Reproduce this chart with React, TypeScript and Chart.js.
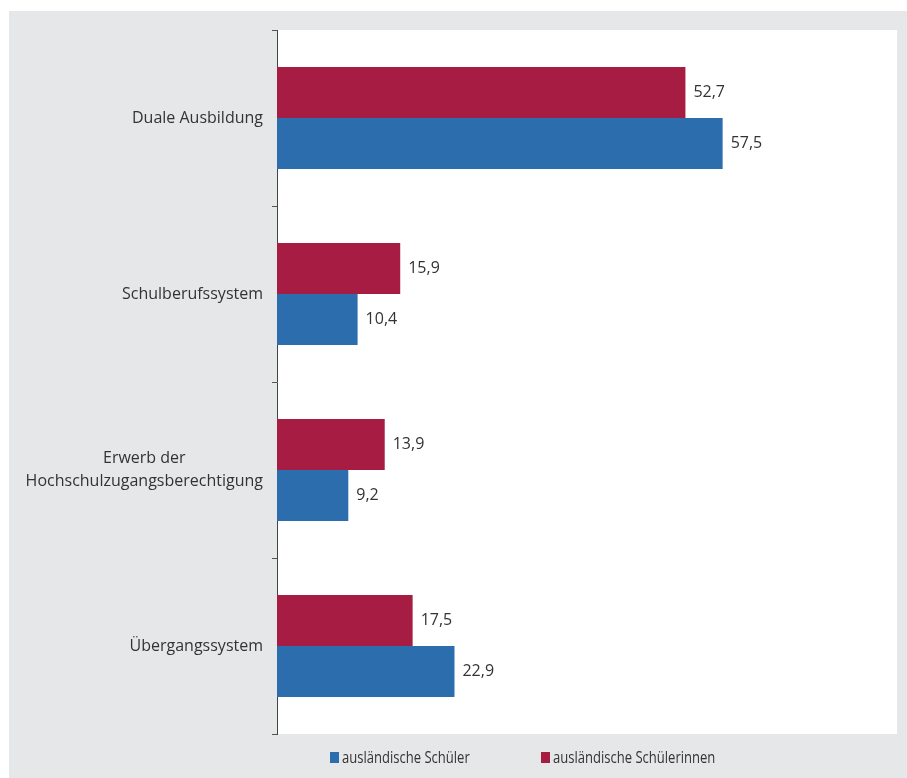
import React, { useEffect, useRef } from "react";
import { Chart, registerables } from "chart.js";

Chart.register(...registerables);

const categories: (string | string[])[] = [
  "Duale Ausbildung",
  "Schulberufssystem",
  ["Erwerb der", "Hochschulzugangsberechtigung"],
  "Übergangssystem",
];
const seriesNames = ["ausländische Schülerinnen", "ausländische Schüler"];
const schuelerinnen = [52.7, 15.9, 13.9, 17.5];
const schueler = [57.5, 10.4, 9.2, 22.9];
const colors = ["#a61c43", "#2c6dae"];
const xMin = 0;
const xMax = 80;

const FONT = "'Open Sans', sans-serif";
const TEXT = "#333333";

const fmt = (v: number) => v.toFixed(1).replace(".", ",");

const plotBg = {
  id: "plotBg",
  beforeDraw(chart: any) {
    const { ctx, chartArea } = chart;
    ctx.save();
    ctx.fillStyle = "#ffffff";
    ctx.fillRect(chartArea.left, chartArea.top, chartArea.right - chartArea.left, chartArea.bottom - chartArea.top);
    ctx.restore();
  },
};

const catLabels = {
  id: "catLabels",
  afterDraw(chart: any) {
    const { ctx, chartArea } = chart;
    const yScale = chart.scales.y;
    ctx.save();
    ctx.font = `16px ${FONT}`;
    ctx.fillStyle = TEXT;
    ctx.textBaseline = "middle";
    ctx.textAlign = "center";
    const lh = 23;
    categories.forEach((lab, i) => {
      const lines = Array.isArray(lab) ? lab : [lab];
      const w = Math.max(...lines.map((l) => ctx.measureText(l).width));
      const xc = chartArea.left - 14 - w / 2;
      const yc = yScale.getPixelForValue(i);
      lines.forEach((l, j) => {
        const y = yc + (j - (lines.length - 1) / 2) * lh;
        ctx.fillText(l, xc, y);
      });
    });
    ctx.restore();
  },
};

const valueLabels = {
  id: "valueLabels",
  afterDatasetsDraw(chart: any) {
    const { ctx } = chart;
    ctx.save();
    ctx.font = `16px ${FONT}`;
    ctx.fillStyle = TEXT;
    ctx.textBaseline = "middle";
    ctx.textAlign = "left";
    chart.data.datasets.forEach((ds: any, di: number) => {
      const meta = chart.getDatasetMeta(di);
      meta.data.forEach((bar: any, i: number) => {
        ctx.fillText(fmt(ds.data[i]), bar.x + 8, bar.y);
      });
    });
    ctx.restore();
  },
};

export default function App() {
  const ref = useRef<HTMLCanvasElement>(null);
  useEffect(() => {
    if (!ref.current) return;
    const chart = new Chart(ref.current, {
      type: "bar",
      data: {
        labels: categories as any,
        datasets: [
          { label: seriesNames[0], data: schuelerinnen, backgroundColor: colors[0], borderWidth: 0 },
          { label: seriesNames[1], data: schueler, backgroundColor: colors[1], borderWidth: 0 },
        ],
      },
      options: {
        indexAxis: "y",
        responsive: false,
        animation: false,
        events: [],
        layout: { padding: { top: 19, right: 10, bottom: 44, left: 0 } },
        datasets: { bar: { categoryPercentage: 0.58, barPercentage: 1 } },
        plugins: { legend: { display: false }, tooltip: { enabled: false } },
        scales: {
          x: { display: false, min: xMin, max: xMax },
          y: {
            position: "left",
            offset: true,
            grid: { display: true, drawOnChartArea: false, drawTicks: true, tickLength: 5, color: "#555555", offset: true },
            border: { display: true, color: "#444444", width: 1 },
            ticks: { display: false },
            afterFit(scale: any) {
              scale.width = 268;
            },
          },
        },
      },
      plugins: [plotBg, catLabels, valueLabels],
    });
    return () => chart.destroy();
  }, []);

  const legendItem = (name: string, color: string, left: number) => (
    <div
      style={{
        position: "absolute",
        left,
        top: 736,
        height: 20,
        display: "flex",
        alignItems: "center",
        fontFamily: FONT,
        fontSize: 16,
        color: TEXT,
        whiteSpace: "nowrap",
      }}
    >
      <span style={{ display: "inline-block", width: 9, height: 11, background: color, marginRight: 3, flex: "none" }} />
      <span style={{ display: "inline-block", transform: "scaleX(0.815)", transformOrigin: "left center" }}>{name}</span>
    </div>
  );

  return (
    <div style={{ position: "fixed", left: 9, top: 11, right: 0, bottom: 0, background: "#e6e7e8" }}>
      <canvas ref={ref} width={898} height={767} style={{ display: "block" }} />
      {legendItem(seriesNames[1], colors[1], 321)}
      {legendItem(seriesNames[0], colors[0], 532)}
    </div>
  );
}
